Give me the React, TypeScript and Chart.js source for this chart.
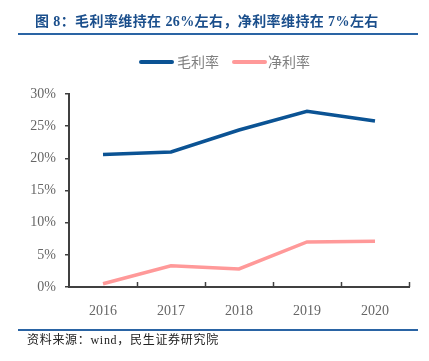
import React, { useEffect, useRef } from "react";
import { Chart, registerables } from "chart.js";
Chart.register(...registerables);

const years = ["2016", "2017", "2018", "2019", "2020"];
const grossMargin = [20.6, 21.0, 24.4, 27.3, 25.8];
const netMargin = [0.5, 3.3, 2.8, 7.0, 7.1];
const seriesNames = ["毛利率", "净利率"];
const seriesColors = ["#0B5394", "#FF9999"];
const titleText = "图 8：毛利率维持在 26%左右，净利率维持在 7%左右";
const sourceText = "资料来源：wind，民生证券研究院";

const SERIF = '"Liberation Serif", "Noto Sans CJK SC", serif';
const SANS = '"Noto Sans CJK SC", "Noto Sans", sans-serif';

const decorPlugin = {
  id: "decor",
  afterDraw(chart: any) {
    const ctx = chart.ctx;
    const area = chart.chartArea;
    ctx.save();
    // title
    ctx.fillStyle = "#1B4F8C";
    ctx.font = `bold 14px ${SERIF}`;
    ctx.textBaseline = "middle";
    ctx.textAlign = "left";
    (ctx as any).letterSpacing = "0.4px";
    ctx.fillText(titleText, 35, 22);
    (ctx as any).letterSpacing = "0px";
    // title rule
    ctx.strokeStyle = "#2A64A4";
    ctx.lineWidth = 2;
    ctx.beginPath();
    ctx.moveTo(18, 34);
    ctx.lineTo(418, 34);
    ctx.stroke();
    // legend
    const items = [
      { x: 141, tx: 177 },
      { x: 234, tx: 268 },
    ];
    ctx.font = `14px ${SANS}`;
    items.forEach((it, i) => {
      ctx.strokeStyle = seriesColors[i];
      ctx.lineWidth = 4;
      ctx.lineCap = "round";
      ctx.beginPath();
      ctx.moveTo(it.x, 62);
      ctx.lineTo(it.x + 31, 62);
      ctx.stroke();
      ctx.fillStyle = "#7F7F7F";
      ctx.fillText(seriesNames[i], it.tx, 62);
    });
    ctx.lineCap = "butt";
    // x ticks pointing up
    const n = years.length;
    const w = (area.right - area.left) / n;
    ctx.strokeStyle = "#404040";
    ctx.lineWidth = 1.5;
    for (let i = 1; i <= n; i++) {
      const x = Math.round(area.left + i * w) + 0.5;
      ctx.beginPath();
      ctx.moveTo(x, area.bottom);
      ctx.lineTo(x, area.bottom - 5);
      ctx.stroke();
    }
    // source rule
    ctx.strokeStyle = "#2A64A4";
    ctx.lineWidth = 2;
    ctx.beginPath();
    ctx.moveTo(18, 330);
    ctx.lineTo(418, 330);
    ctx.stroke();
    ctx.fillStyle = "#222222";
    ctx.font = `12px ${SERIF}`;
    (ctx as any).letterSpacing = "0.7px";
    ctx.fillText(sourceText, 27, 341);
    (ctx as any).letterSpacing = "0px";
    ctx.restore();
  },
};

export default function App() {
  const ref = useRef<HTMLCanvasElement | null>(null);
  useEffect(() => {
    if (!ref.current) return;
    const chart = new Chart(ref.current, {
      type: "line",
      data: {
        labels: years,
        datasets: [
          {
            label: seriesNames[0],
            data: grossMargin,
            borderColor: seriesColors[0],
            backgroundColor: seriesColors[0],
            borderWidth: 3.5,
            pointRadius: 0,
            tension: 0,
          },
          {
            label: seriesNames[1],
            data: netMargin,
            borderColor: seriesColors[1],
            backgroundColor: seriesColors[1],
            borderWidth: 3.5,
            pointRadius: 0,
            tension: 0,
          },
        ],
      },
      options: {
        responsive: false,
        animation: false,
        layout: { padding: { left: 19, right: 20, top: 94, bottom: 44 } },
        plugins: {
          legend: { display: false },
          title: { display: false },
          tooltip: { enabled: false },
        },
        scales: {
          x: {
            offset: true,
            grid: { display: false },
            border: { display: true, color: "#404040", width: 2 },
            ticks: {
              color: "#666666",
              font: { family: SERIF, size: 14 },
              padding: 8,
              maxRotation: 0,
            },
            afterFit: (s: any) => {
              s.height = 30;
            },
          },
          y: {
            min: 0,
            max: 30,
            grid: {
              display: true,
              drawOnChartArea: false,
              drawTicks: true,
              tickLength: 4,
              color: "#404040",
              lineWidth: 1.5,
            },
            border: { display: true, color: "#404040", width: 2 },
            ticks: {
              stepSize: 5,
              color: "#666666",
              font: { family: SERIF, size: 14 },
              padding: 9,
              callback: (v: any) => `${v}%`,
            },
            afterFit: (s: any) => {
              s.width = 50;
            },
          },
        },
      },
      plugins: [decorPlugin],
    });
    return () => chart.destroy();
  }, []);
  return (
    <div style={{ position: "absolute", left: 0, top: 0, width: 429, height: 361, background: "#fff" }}>
      <canvas ref={ref} width={429} height={361} style={{ display: "block", width: 429, height: 361 }} />
    </div>
  );
}
